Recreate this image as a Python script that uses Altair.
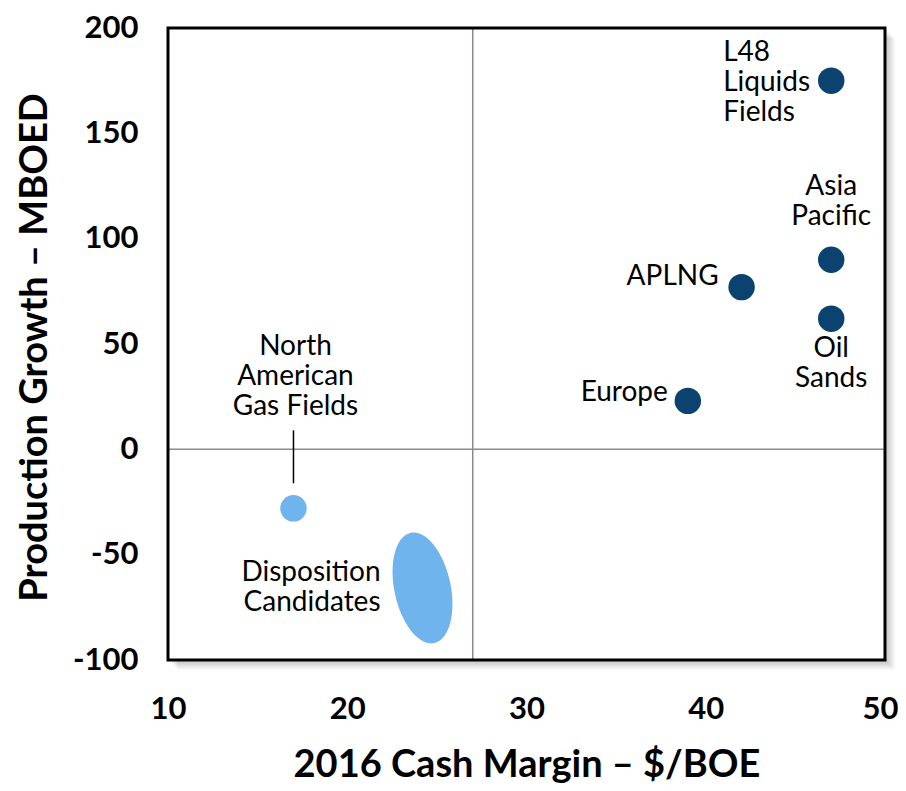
import altair as alt
import pandas as pd

# ---- data ----
names = ["L48 Liquids Fields", "Asia Pacific", "APLNG", "Oil Sands", "Europe", "North American Gas Fields"]
cash_margin = [47, 47, 42, 47, 39, 17]
prod_growth = [175, 90, 77, 62, 23, -28]
groups = ["core", "core", "core", "core", "core", "gas"]

disp_name = ["Disposition Candidates"]
disp_margin = [24.2]
disp_growth = [-65.8]

x_ticks = [10, 20, 30, 40, 50]
y_ticks = [-100, -50, 0, 50, 100, 150, 200]
x_ref = [27]
y_ref = [0]

W, H = 717, 632
DARK = "#0c4270"
LIGHT = "#70b4ee"
FONT = "Lato"

df = pd.DataFrame({"name": names, "x": cash_margin, "y": prod_growth, "group": groups})
dd = pd.DataFrame({"name": disp_name, "x": disp_margin, "y": disp_growth})

xs = alt.Scale(domain=[10, 50], nice=False, zero=False)
ys = alt.Scale(domain=[-100, 200], nice=False, zero=False)

last_x = "datum.value == %d" % x_ticks[-1]
xaxis = alt.Axis(values=x_ticks, grid=False, ticks=False, tickSize=0, domain=False,
                 labelFlush=False, labelExpr="'' + datum.value",
                 labelAlign={"condition": {"test": last_x, "value": "right"}, "value": "center"},
                 labelOffset={"condition": {"test": last_x, "value": 13}, "value": 0},
                 labelFont=FONT, labelFontWeight="bold", labelFontSize=31, labelColor="black",
                 labelPadding=34, title="2016 Cash Margin – $/BOE", titleFont=FONT,
                 titleFontWeight="bold", titleFontSize=38, titleColor="black",
                 titleX=W / 2, titleY=116, titleBaseline="alphabetic", titleAlign="center")
yaxis = alt.Axis(values=y_ticks, grid=False, ticks=False, tickSize=0, domain=False,
                 labelFlush=False, labelExpr="'' + datum.value",
                 labelFont=FONT, labelFontWeight="bold", labelFontSize=31, labelColor="black",
                 labelPadding=30, title="Production Growth – MBOED", titleFont=FONT,
                 titleFontWeight="bold", titleFontSize=38, titleColor="black",
                 titleX=-133, titleY=H / 2 + 3, titleBaseline="middle", titleAlign="center",
                 titleAngle=270)

frame = pd.DataFrame({"x0": [10], "x1": [50], "y0": [-100], "y1": [200]})

shadows = []
for k in range(1, 9):
    shadows.append(
        alt.Chart(frame).mark_rect(fill="#000000", opacity=0.025, xOffset=2 + k, x2Offset=2 + k,
                                   yOffset=2 + k, y2Offset=2 + k)
        .encode(x=alt.X("x0:Q", scale=xs, axis=xaxis), x2="x1:Q",
                y=alt.Y("y0:Q", scale=ys, axis=yaxis), y2="y1:Q")
    )

white = alt.Chart(frame).mark_rect(fill="white").encode(
    x=alt.X("x0:Q", scale=xs), x2="x1:Q", y=alt.Y("y0:Q", scale=ys), y2="y1:Q")

vline = alt.Chart(pd.DataFrame({"x": x_ref})).mark_rule(color="#8a8a8a", strokeWidth=1.5).encode(
    x=alt.X("x:Q", scale=xs))
hline = alt.Chart(pd.DataFrame({"y": y_ref})).mark_rule(color="#8a8a8a", strokeWidth=1.5).encode(
    y=alt.Y("y:Q", scale=ys))

border = alt.Chart(frame).mark_rect(fill=None, stroke="black", strokeWidth=3).encode(
    x=alt.X("x0:Q", scale=xs), x2="x1:Q", y=alt.Y("y0:Q", scale=ys), y2="y1:Q")

points = alt.Chart(df).mark_circle(size=700, opacity=1).encode(
    x=alt.X("x:Q", scale=xs), y=alt.Y("y:Q", scale=ys),
    color=alt.Color("group:N", scale=alt.Scale(domain=["core", "gas"], range=[DARK, LIGHT]), legend=None))

a = 0.5
kk = 0.5523
ellipse_path = (f"M 0 -1 C {kk*a} -1 {a} {-kk} {a} 0 C {a} {kk} {kk*a} 1 0 1 "
                f"C {-kk*a} 1 {-a} {kk} {-a} 0 C {-a} {-kk} {-kk*a} -1 0 -1 Z")
ellipse = alt.Chart(dd).mark_point(shape=ellipse_path, size=12720, filled=True, fill=LIGHT,
                                   stroke=None, strokeWidth=0, opacity=1, angle=348).encode(
    x=alt.X("x:Q", scale=xs), y=alt.Y("y:Q", scale=ys))

leader = alt.Chart(df[df.name == "North American Gas Fields"]).mark_rule(
    color="black", strokeWidth=1.5, yOffset=-78, y2Offset=-25).encode(
    x=alt.X("x:Q", scale=xs), y=alt.Y("y:Q", scale=ys), y2="y:Q")


def label(data, name, lines, align, dx, dy):
    return alt.Chart(data[data.name == name]).mark_text(
        align=align, baseline="middle", dx=dx, dy=dy, font=FONT, fontSize=28,
        lineHeight=30, color="black").encode(
        x=alt.X("x:Q", scale=xs), y=alt.Y("y:Q", scale=ys), text=alt.value(lines))


labels = [
    label(df, "L48 Liquids Fields", ["L48", "Liquids", "Fields"], "left", -108, -28),
    label(df, "Asia Pacific", ["Asia", "Pacific"], "center", 0, -73),
    label(df, "APLNG", ["APLNG"], "right", -23, -10),
    label(df, "Oil Sands", ["Oil", "Sands"], "center", 0, 30),
    label(df, "Europe", ["Europe"], "right", -20, -8),
    label(df, "North American Gas Fields", ["North", "American", "Gas Fields"], "center", 2, -161),
    label(dd, "Disposition Candidates", ["Disposition", "Candidates"], "right", -42, -15),
]

chart = alt.layer(*shadows, white, vline, hline, border, points, ellipse, leader, *labels).properties(
    width=W, height=H,
    autosize=alt.AutoSizeParams(type="none"),
    padding={"left": 160, "top": 20, "right": 13, "bottom": 123},
).configure_view(stroke=None).configure(background="white")

chart.save("out.html", embed_options={"renderer": "svg", "actions": False})
